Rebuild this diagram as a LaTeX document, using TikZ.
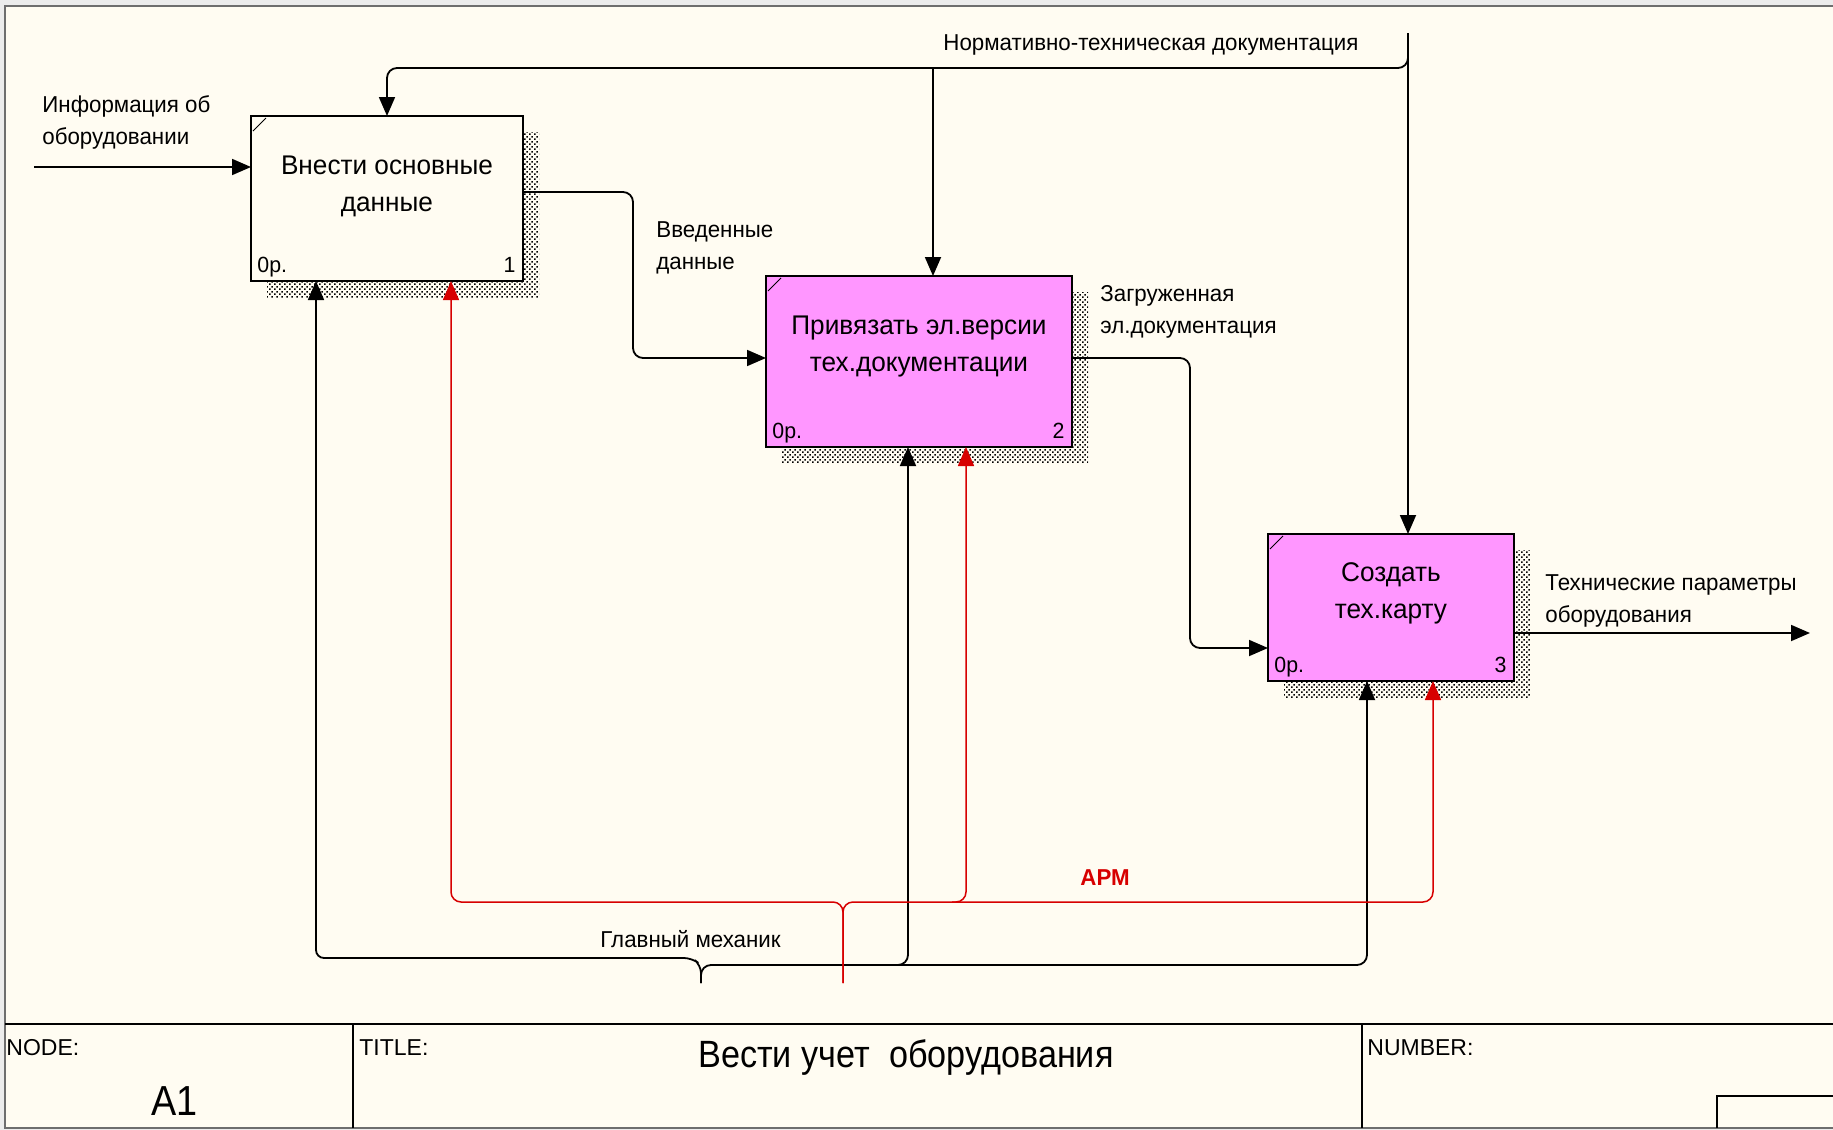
\documentclass[tikz,border=0pt]{standalone}
\usepackage{fontspec}
\setmainfont[FakeStretch=0.97]{Liberation Sans}
\newfontfamily\titlefont[FakeStretch=0.9]{Liberation Sans}
\newfontfamily\blockfont{Liberation Sans}
\usetikzlibrary{arrows.meta,calc,patterns.meta}

\definecolor{paper}{RGB}{255,252,242}
\definecolor{outside}{RGB}{236,236,236}
\definecolor{framegray}{RGB}{110,110,110}
\definecolor{actpink}{RGB}{255,150,255}
\definecolor{armred}{RGB}{215,0,0}

% fine dotted checker used for the drop shadows of the activity boxes
\tikzdeclarepattern{
  name=shadechecker,
  type=uncolored,
  bottom left={(0pt,0pt)},
  top right={(2.4pt,2.4pt)},
  tile size={(2.4pt,2.4pt)},
  code={
    \fill (0pt,0pt) rectangle (0.8pt,0.8pt);
    \fill (1.2pt,1.2pt) rectangle (2pt,2pt);
  }
}

\pgfdeclarelayer{paperlayer}
\pgfdeclarelayer{shadelayer}
\pgfsetlayers{paperlayer,shadelayer,main}

\begin{document}
\begin{tikzpicture}[x=0.5pt,y=-0.5pt,
  box/.style={draw, line width=1pt, inner sep=0pt, outer sep=0pt, anchor=north west},
  boxtext/.style={font=\fontsize{13.5}{18.5}\selectfont, align=center, anchor=base, inner sep=0pt},
  lbl/.style={font=\fontsize{11.5}{16}\selectfont, align=left, anchor=base west, inner sep=0pt},
  cost/.style={font=\fontsize{11}{12}\selectfont, inner sep=0pt},
  tb/.style={font=\blockfont\fontsize{11.5}{14}\selectfont, anchor=base west, inner sep=0pt},
  conn/.style={line width=0.9pt, -{Triangle[length=9.5pt,width=8pt]}},
  rconn/.style={conn, draw=armred, line width=0.75pt, -{Triangle[length=9.5pt,width=8pt,fill=armred]}},
]
\useasboundingbox (0,0) rectangle (1833,1130);

% sheet
\begin{pgfonlayer}{paperlayer}
  \fill[outside] (0,0) rectangle (1833,1130);
  \fill[paper] (5,6) rectangle (1833,1128);
  \draw[framegray, line width=0.8pt] (1833,6) -- (5,6) -- (5,1128) -- (1833,1128);
\end{pgfonlayer}

% activity boxes
\node[box, fill=paper,   minimum width=136pt, minimum height=82.5pt] (b1) at (251,116) {};
\node[box, fill=actpink, minimum width=153pt, minimum height=85.5pt] (b2) at (766,276) {};
\node[box, fill=actpink, minimum width=123pt, minimum height=73.5pt] (b3) at (1268,534) {};

\begin{pgfonlayer}{shadelayer}
  \foreach \b in {b1,b2,b3}
    \fill[pattern={shadechecker}, pattern color=black]
      ($(\b.north west)+(16,16)$) rectangle ($(\b.south east)+(16,16)$);
\end{pgfonlayer}

\foreach \b/\n in {b1/1,b2/2,b3/3}{
  \draw[line width=0.5pt] ($(\b.north west)+(2,15)$) -- ($(\b.north west)+(15,2)$);
  \node[cost, anchor=base west] at ($(\b.south west)+(6,-9)$) {0р.};
  \node[cost, anchor=base east] at ($(\b.south east)+(-7,-9)$) {\n};
}

% box captions, placed by the baseline of their last line
\node[boxtext] (t1) at ($(b1.north)+(0,95)$) {Внести основные\\данные};
\node[boxtext] (t2) at ($(b2.north)+(0,95)$) {Привязать эл.версии\\тех.документации};
\node[boxtext] (t3) at ($(b3.north)+(0,84)$) {Создать\\тех.карту};

% inputs and outputs
\coordinate (inSrc) at (34,167);
\draw[conn] (inSrc) -- (inSrc -| b1.west);
\draw[conn, rounded corners=5pt] ($(b1.north east)+(0,76)$) -- ++(110,0) |- ($(b2.north west)+(0,82)$);
\draw[conn, rounded corners=5pt] ($(b2.north east)+(0,82)$) -- ++(118,0) |- ($(b3.north west)+(0,114)$);
\coordinate (outEnd) at (1810,633);
\draw[conn] ($(b3.north east)+(0,99)$) -- (outEnd);

% controls
\coordinate (ctlSrc) at (1408,33);
\coordinate (ctlBus) at (1408,68);
\coordinate (ctl2) at ($(b2.north)+(14,0)$);
\draw[conn] (ctlSrc) -- (ctlSrc |- b3.north);
\draw[conn, rounded corners=5pt] (ctlSrc) -- (ctlBus) -| (b1.north);
\draw[conn] (ctlBus -| ctl2) -- (ctl2);

% mechanism: chief mechanic
\coordinate (mechSrc) at (701,983);
\coordinate (mBus) at (701,965);
\coordinate (mBusL) at (692,958);
\coordinate (mech1) at ($(b1.south)+(-71,0)$);
\coordinate (mech2) at ($(b2.south)+(-11,0)$);
\coordinate (mech3) at ($(b3.south)+(-24,0)$);
\coordinate (m2j) at (mBus -| mech2);
\draw[conn, rounded corners=5pt] (mechSrc) -- (mBus) -| (mech3);
\draw[conn, rounded corners=4pt] (mechSrc) -- (mBus) -- (mBusL) -| (mech1);
\draw[conn, rounded corners=5pt] ($(m2j)+(-14,0)$) -- (m2j) -- (mech2);

% mechanism: workstation
\coordinate (armSrc) at (843,983);
\coordinate (aBus) at (843,902);
\coordinate (arm1) at ($(b1.south)+(64,0)$);
\coordinate (arm2) at ($(b2.south)+(47,0)$);
\coordinate (arm3) at ($(b3.south)+(42,0)$);
\coordinate (a2j) at (aBus -| arm2);
\draw[rconn, rounded corners=5pt] (armSrc) -- (aBus) -| (arm1);
\draw[rconn, rounded corners=5pt] (armSrc) -- (aBus) -| (arm3);
\draw[rconn, rounded corners=5pt] ($(a2j)+(-14,0)$) -- (a2j) -- (arm2);

% arrow labels (two-line ones anchored at the last line's baseline)
\node[lbl] (lInfo) at (42,144) {Информация об\\оборудовании};
\node[lbl] (lVved) at (656,269) {Введенные\\данные};
\node[lbl] (lZagr) at (1100,333) {Загруженная\\эл.документация};
\node[lbl] (lTech) at (1545,622) {Технические параметры\\оборудования};
\node[lbl] (lNorm) at (943,50) {Нормативно-техническая документация};
\node[lbl] (lGlav) at (600,947) {Главный механик};
\node[lbl, text=armred, font=\fontsize{11.5}{16}\selectfont\bfseries] (lArm) at (1080,885) {АРМ};

% title block
\draw[line width=1pt] (5,1024) -- (1833,1024);
\draw[line width=0.8pt] (353,1024) -- (353,1128);
\draw[line width=0.8pt] (1362,1024) -- (1362,1128);
\draw[line width=0.8pt] (1833,1096) -- (1717,1096) -- (1717,1128);
\node[tb] (hNode) at (6,1055) {NODE:};
\node[tb] (hTitle) at (359,1055) {TITLE:};
\node[tb] (hNumber) at (1367,1055) {NUMBER:};
\node[font=\titlefont\fontsize{21}{24}\selectfont, anchor=base west, inner sep=0pt] (nodeNum) at (151,1115) {A1};
\node[font=\titlefont\fontsize{19}{24}\selectfont, anchor=base west, inner sep=0pt] (title) at (698,1067) {Вести учет\ \ оборудования};
\end{tikzpicture}
\end{document}
